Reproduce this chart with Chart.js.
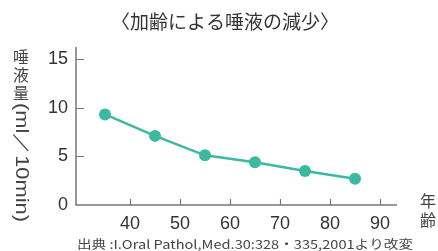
<!DOCTYPE html>
<html><head><meta charset="utf-8">
<script src="https://cdn.jsdelivr.net/npm/chart.js@4"></script>
<style>html,body{margin:0;padding:0;background:#fff;}#wrap{width:438px;height:251px;}</style>
</head><body><div id="wrap"><canvas id="c" width="438" height="251"></canvas></div>
<script>
const title = "〈加齢による唾液の減少〉";
const yTitleUpright = ["唾", "液", "量"];
const yTitleRotated = "(ml／10min)";
const xTitle = ["年", "齢"];
const source = "出典 :I.Oral Pathol,Med.30:328・335,2001より改変";
const ages = [35, 45, 55, 65, 75, 85];
const saliva = [9.3, 7.1, 5.1, 4.4, 3.5, 2.7];
const xTicks = [40, 50, 60, 70, 80, 90];
const yTicks = [0, 5, 10, 15];

const teal = "#3cb9a0";
const axisCol = "#777";
const textCol = "#333";

const deco = {
  id: "deco",
  afterDraw(chart) {
    const ctx = chart.ctx, a = chart.chartArea;
    const xs = chart.scales.x, ys = chart.scales.y;
    ctx.save();
    ctx.strokeStyle = axisCol; ctx.lineWidth = 1.5;
    ctx.beginPath();
    ctx.moveTo(a.left, a.top); ctx.lineTo(a.left, a.bottom); ctx.lineTo(a.right, a.bottom);
    ctx.stroke();
    ctx.lineWidth = 1.2;
    ctx.beginPath();
    yTicks.forEach(v => { if (v === 0) return; const y = Math.round(ys.getPixelForValue(v)) + 0.5; ctx.moveTo(a.left, y); ctx.lineTo(a.left + 8, y); });
    xTicks.forEach(v => { const x = Math.round(xs.getPixelForValue(v)) + 0.5; ctx.moveTo(x, a.bottom); ctx.lineTo(x, a.bottom - 6); });
    ctx.stroke();
    ctx.fillStyle = textCol;
    ctx.textAlign = "center"; ctx.textBaseline = "middle";
    ctx.font = '19px "Noto Sans CJK JP"';
    ctx.fillText(title, 225, 22);
    ctx.font = '16px "Noto Sans CJK JP"';
    ctx.fillStyle = "#444";
    yTitleUpright.forEach((ch, i) => ctx.fillText(ch, 21, 57 + i * 18));
    ctx.save();
    ctx.translate(21, 103);
    ctx.rotate(Math.PI / 2);
    ctx.textAlign = "left";
    ctx.font = '18px "Liberation Sans"';
    const w = ctx.measureText(yTitleRotated).width;
    ctx.scale(119 / w, 1);
    ctx.fillText(yTitleRotated, 0, 0);
    ctx.restore();
    ctx.font = '16px "Noto Sans CJK JP"';
    xTitle.forEach((ch, i) => ctx.fillText(ch, 428, 201 + i * 19));
    ctx.font = '12px "Noto Sans CJK JP"';
    ctx.fillStyle = "#444";
    ctx.save();
    ctx.translate(77, 244);
    ctx.textAlign = "left";
    const sw = ctx.measureText(source).width;
    ctx.scale(336 / sw, 1);
    ctx.fillText(source, 0, 0);
    ctx.restore();
    ctx.restore();
  }
};

new Chart(document.getElementById("c"), {
  type: "line",
  data: {
    datasets: [{
      data: ages.map((x, i) => ({ x: x, y: saliva[i] })),
      borderColor: teal, backgroundColor: teal,
      borderWidth: 2.5, pointRadius: 6, pointBorderWidth: 0,
      pointBackgroundColor: teal, tension: 0
    }]
  },
  options: {
    responsive: false, animation: false,
    layout: { padding: { top: 47, right: 41, left: 0, bottom: 0 } },
    plugins: { legend: { display: false }, tooltip: { enabled: false }, title: { display: false } },
    scales: {
      x: {
        type: "linear", min: 29.2, max: 93.4,
        afterBuildTicks: s => { s.ticks = xTicks.map(v => ({ value: v })); },
        afterFit: s => { s.height = 46; },
        grid: { display: false, drawTicks: false }, border: { display: false },
        ticks: { padding: 8, color: textCol, font: { family: "Liberation Sans", size: 18 } }
      },
      y: {
        type: "linear", min: 0, max: 16.23,
        afterBuildTicks: s => { s.ticks = yTicks.map(v => ({ value: v })); },
        afterFit: s => { s.width = 76; },
        grid: { display: false, drawTicks: false }, border: { display: false },
        ticks: { padding: 8, color: textCol, font: { family: "Liberation Sans", size: 18 } }
      }
    }
  },
  plugins: [deco]
});
</script></body></html>
